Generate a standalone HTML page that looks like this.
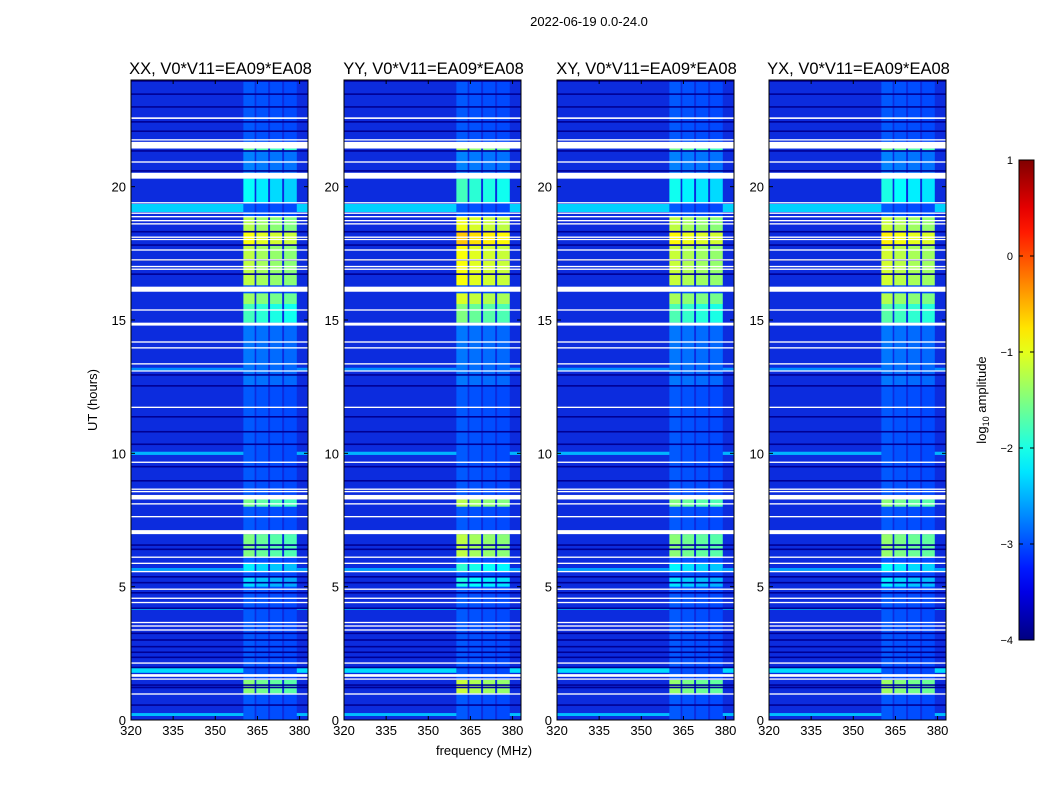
<!DOCTYPE html>
<html><head><meta charset="utf-8">
<style>
body{margin:0;background:#fff;}
svg text{font-family:"Liberation Sans",sans-serif;fill:#000;}
</style></head>
<body>
<svg id="fig" width="1050" height="800" xmlns="http://www.w3.org/2000/svg">
<text x="589" y="26" font-size="13" text-anchor="middle">2022-06-19 0.0-24.0</text>
<text x="97" y="400" font-size="13" text-anchor="middle" transform="rotate(-90 97 400)">UT (hours)</text>
<text x="484" y="755" font-size="13" text-anchor="middle">frequency (MHz)</text>
<g id="panels"></g>
<g id="cbar"></g>
</svg>
<script>
// ---- data ----
const panelTitles = ["XX, V0*V11=EA09*EA08","YY, V0*V11=EA09*EA08","XY, V0*V11=EA09*EA08","YX, V0*V11=EA09*EA08"];
const panelBandOffset = [0, 0.3, 0.05, 0.1];
const freqTicks = [320,335,350,365,380];
const timeTicks = [0,5,10,15,20];
const cbarTicks = [1,0,-1,-2,-3,-4];
const baseLevel = -3.2;
// flagged (white) time ranges [start,end] hours
const whiteRows = [[22.54,22.6],[21.73,21.78],[21.43,21.68],[20.9,20.95],[20.3,20.52],[19.37,19.42],[18.98,19.03],[18.85,18.9],[18.7,18.75],[18.58,18.63],[18.08,18.13],[18.0,18.04],[17.6,17.65],[17.23,17.28],[16.98,17.03],[16.88,16.93],[16.06,16.25],[15.35,15.4],[14.79,14.9],[14.15,14.2],[13.93,13.98],[13.33,13.38],[13.07,13.11],
 [11.7,11.75],[9.64,9.69],[8.63,8.68],[8.54,8.59],[8.27,8.44],[8.08,8.13],[7.6,7.65],[6.97,7.12],[6.08,6.13],[5.85,5.9],[5.54,5.59],[4.88,4.93],[4.54,4.59],[4.38,4.43],[3.63,3.68],[3.5,3.55],[3.35,3.4],[2.11,2.16],[1.62,1.72],[1.51,1.56],[0.95,1.0]];
// dark (near-zero) lines, centre hours
const darkRows = [23.96,23.47,22.99,22.43,22.08,21.34,20.59,18.31,17.81,17.25,16.72,12.94,12.53,11.37,10.81,10.34,9.5,8.97,6.56,6.4,5.37,5.15,4.77,4.19,3.25,3.0,2.75,2.54,2.35,1.97,1.31,1.22,0.56];
// broadband enhanced rows [start,end,level]
const broadRows = [[19.05,19.35,-2.35],[13.09,13.21,-2.7],[9.94,10.06,-2.5],[5.55,5.7,-2.6],[4.14,4.18,-2.2],[1.77,1.95,-2.3],[0.15,0.26,-2.45]];
// RFI band activity [start,end,level]
const bandRows = [[21.34,21.43,-1.8],[20.52,21.3,-2.8],[19.4,20.3,-2.3],[17.8,18.35,-1.1],[16.3,17.8,-1.4],[18.35,18.9,-1.45],[15.6,16.0,-1.55],[14.9,15.6,-2.0],[12.5,14.8,-2.85],[8.0,8.27,-1.75],[6.1,6.97,-1.7],[5.56,5.87,-2.4],[5.0,5.4,-2.5],[1.0,1.5,-1.65],[0,24,-3.0]];
// RFI sub-band channels [fStart,fEnd,boost]
const bandChans = [[360,364,0.2],[364.6,368.8,0.08],[369.5,373.8,0],[374.5,379,-0.05]];

// ---- geometry ----
const lefts=[131,344,557,769], W=177, topY=80, botY=720;
const fx=(l,f)=>l+(f-320)/63*W;
const ty=h=>botY-(h/24)*(botY-topY);
function jet(lv){let v=Math.max(0,Math.min(1,(lv+4)/5));
 const c=x=>Math.round(255*Math.max(0,Math.min(1,1.5-Math.abs(x))));
 return `rgb(${c(4*v-3)},${c(4*v-2)},${c(4*v-1)})`;}
const NS="http://www.w3.org/2000/svg";
function mk(tag,attrs,parent){const e=document.createElementNS(NS,tag);for(const k in attrs)e.setAttribute(k,attrs[k]);parent.appendChild(e);return e;}

const G=document.getElementById('panels');
panelTitles.forEach((title,pi)=>{
 const l=lefts[pi];
 const g=mk('g',{},G);
 
 
 const bg=mk('rect',{x:l,y:topY,width:W,height:botY-topY,fill:'rgb(12,44,222)'},g);
 
 
 for(let i=bandRows.length-1;i>=0;i--){const [a,b,lv]=bandRows[i];
  bandChans.forEach(([f0,f1,bo])=>{
   const act=lv>-2.7;
   const r=mk('rect',{x:fx(l,f0),y:ty(b),width:fx(l,f1)-fx(l,f0),height:ty(a)-ty(b),fill:jet(lv+(act?bo+panelBandOffset[pi]:bo*0.3))},g);
   
   
  });}
 broadRows.forEach(([a,b,lv])=>{
  const r=mk('rect',{x:l,y:ty(b),width:fx(l,360)-l,height:ty(a)-ty(b),fill:jet(lv)},g);
  
  
  const r2=mk('rect',{x:fx(l,379),y:ty(b),width:l+W-fx(l,379),height:ty(a)-ty(b),fill:jet(lv)},g);
  
  
 });
 darkRows.forEach(h=>{
  const r=mk('rect',{x:l,y:ty(h+0.03),width:W,height:1.6,fill:jet(-3.9)},g);
  
  
 });
 whiteRows.forEach(([a,b])=>{
  const r=mk('rect',{x:l,y:ty(b),width:W,height:Math.max(1.2,ty(a)-ty(b)),fill:'#fff'},g);
  
  
 });
 const fr=mk('rect',{x:l,y:topY,width:W,height:botY-topY,fill:'none',stroke:'#000','stroke-width':1},g);
 
 
 const t=mk('text',{x:l+W/2+1,y:74,'font-size':16.5,'text-anchor':'middle'},g);t.textContent=title;
 
 
 freqTicks.forEach(f=>{const x=fx(l,f);
  mk('line',{x1:x,x2:x,y1:botY,y2:botY-4,stroke:'#000'},g);
  mk('line',{x1:x,x2:x,y1:topY,y2:topY+4,stroke:'#000'},g);
  const tx=mk('text',{x:x,y:botY+15,'font-size':13,'text-anchor':'middle'},g);tx.textContent=f;
  
  });
 timeTicks.forEach(h=>{const y=ty(h);
  mk('line',{x1:l,x2:l+4,y1:y,y2:y,stroke:'#000'},g);
  mk('line',{x1:l+W,x2:l+W-4,y1:y,y2:y,stroke:'#000'},g);
  const tx=mk('text',{x:l-5,y:y+5,'font-size':13,'text-anchor':'end'},g);tx.textContent=h;
  
  });
});

// colorbar
const C=document.getElementById('cbar');
const cx=1019,cw=15,ct=160,cb=640;
const cy=v=>cb-(v+4)/5*(cb-ct);
const defs=mk('defs',{},C);
const lg=mk('linearGradient',{id:'jetg',x1:0,y1:1,x2:0,y2:0},defs);
for(let i=0;i<=20;i++){mk('stop',{offset:i/20,'stop-color':jet(-4+5*i/20)},lg);}
const cr=mk('rect',{x:cx,y:ct,width:cw,height:cb-ct,fill:'url(#jetg)',stroke:'#000'},C);


cbarTicks.forEach(v=>{const y=cy(v);
 mk('line',{x1:cx,x2:cx+4,y1:y,y2:y,stroke:'#000'},C);
 mk('line',{x1:cx+cw,x2:cx+cw-4,y1:y,y2:y,stroke:'#000'},C);
 const t=mk('text',{x:1013,y:y+4,'font-size':11,'text-anchor':'end'},C);t.textContent=(v<0?'\u2212'+(-v):v);
 
 });
const cl=mk('text',{x:986,y:400,'font-size':13,'text-anchor':'middle',transform:'rotate(-90 986 400)'},C);
cl.innerHTML='log<tspan font-size="9" dy="3">10</tspan><tspan dy="-3"> amplitude</tspan>';


</script>
</body></html>
